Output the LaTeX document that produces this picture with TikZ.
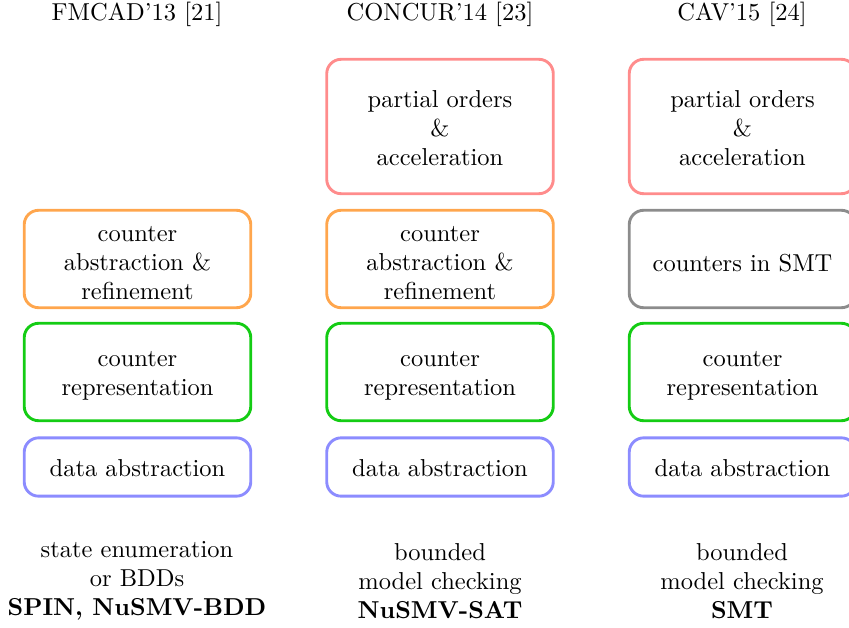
\documentclass[tikz,border=0pt]{standalone}
\definecolor{cred}{RGB}{255,140,140}
\definecolor{corange}{RGB}{255,166,77}
\definecolor{cgreen}{RGB}{20,204,20}
\definecolor{cblue}{RGB}{140,140,255}
\definecolor{cgray}{RGB}{140,140,140}
\begin{document}
\begin{tikzpicture}[x=0.416667pt,y=-0.416667pt,
  font=\fontsize{10.2}{12.1}\selectfont,
  box/.style={draw, line width=1.2pt, rounded corners=6pt, minimum width=94.4pt, inner sep=0pt},
  txt/.style={align=center, inner sep=0pt},
  title/.style={align=center, inner sep=0pt},
  foot/.style={align=center, inner sep=0pt}]
\useasboundingbox (0,0) rectangle (849,628);
% titles
\node[title] (t1) at (137,14) {FMCAD'13 [21]};
\node[title] (t2) at (440,14) {CONCUR'14 [23]};
\node[title] (t3) at (742,14) {CAV'15 [24]};
% column 1
\node[box, draw=corange, minimum height=40.6pt] (o1) at (137.5,259) {};
\node[box, draw=cgreen, minimum height=40.6pt] (g1) at (137.5,372) {};
\node[box, draw=cblue, minimum height=24.3pt] (b1) at (137.5,467) {};
% column 2
\node[box, draw=cred, minimum height=56pt] (r2) at (440,126.5) {};
\node[box, draw=corange, minimum height=40.6pt] (o2) at (440,259) {};
\node[box, draw=cgreen, minimum height=40.6pt] (g2) at (440,372) {};
\node[box, draw=cblue, minimum height=24.3pt] (b2) at (440,467) {};
% column 3
\node[box, draw=cred, minimum height=56pt] (r3) at (742.5,126.5) {};
\node[box, draw=cgray, minimum height=40.6pt] (o3) at (742.5,259) {};
\node[box, draw=cgreen, minimum height=40.6pt] (g3) at (742.5,372) {};
\node[box, draw=cblue, minimum height=24.3pt] (b3) at (742.5,467) {};
% box texts
\node[txt] (o1t) at ([yshift=-1.8pt]o1.center) {counter\\abstraction \&\\refinement};
\node[txt] (g1t) at ([yshift=-1.8pt]g1.center) {counter\\representation};
\node[txt] (b1t) at ([yshift=-0.4pt]b1.center) {data abstraction};
\node[txt] (r2t) at ([yshift=-0.6pt]r2.center) {partial orders\\\&\\acceleration};
\node[txt] (o2t) at ([yshift=-1.8pt]o2.center) {counter\\abstraction \&\\refinement};
\node[txt] (g2t) at ([yshift=-1.8pt]g2.center) {counter\\representation};
\node[txt] (b2t) at ([yshift=-0.4pt]b2.center) {data abstraction};
\node[txt] (r3t) at ([yshift=-0.6pt]r3.center) {partial orders\\\&\\acceleration};
\node[txt] (o3t) at ([yshift=-1.8pt]o3.center) {counters in SMT};
\node[txt] (g3t) at ([yshift=-1.8pt]g3.center) {counter\\representation};
\node[txt] (b3t) at ([yshift=-0.4pt]b3.center) {data abstraction};
% footers
\node[foot] (f1) at (137,581) {state enumeration\\or BDDs\\\textbf{SPIN, NuSMV-BDD}};
\node[foot] (f2) at (440,581) {bounded\\model checking\\\textbf{NuSMV-SAT}};
\node[foot] (f3) at (742,581) {bounded\\model checking\\\textbf{SMT}};
\end{tikzpicture}
\end{document}
